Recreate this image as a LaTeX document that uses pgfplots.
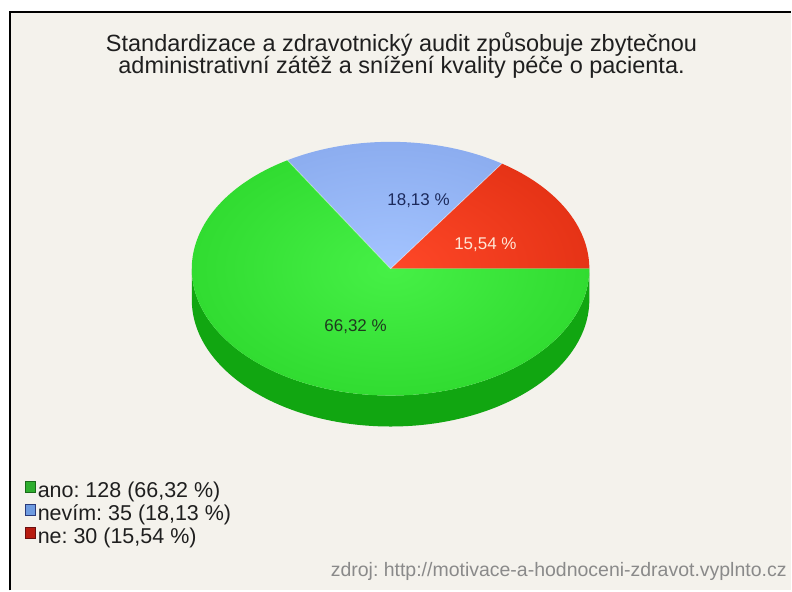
\documentclass[border=0pt]{standalone}
\usepackage{pgfplots}
\pgfplotsset{compat=1.18}
\usepackage{fontspec}
\setmainfont{Liberation Sans}
\frenchspacing
\definecolor{bg}{HTML}{F4F2EC}
\definecolor{gIn}{HTML}{46F046}
\definecolor{gOut}{HTML}{1CC81C}
\definecolor{gSide}{HTML}{11A611}
\definecolor{bIn}{HTML}{A4C4FF}
\definecolor{bOut}{HTML}{7496E0}
\definecolor{rIn}{HTML}{FF4828}
\definecolor{rOut}{HTML}{CC1E04}
\definecolor{lgreen}{HTML}{2EAE2E}
\definecolor{lgreenD}{HTML}{1A6A1A}
\definecolor{lblue}{HTML}{6E9BE0}
\definecolor{lblueD}{HTML}{2A3A7A}
\definecolor{lred}{HTML}{B81C10}
\definecolor{lredD}{HTML}{6A1010}
\definecolor{lab1}{HTML}{1C2A5C}
\definecolor{lab2}{HTML}{FFE6D6}
\definecolor{lab3}{HTML}{1E3A1E}
\definecolor{src}{HTML}{8A8A8A}
% data: ano, nevim, ne
\def\vano{128}\def\vnevim{35}\def\vne{30}
\pgfmathsetmacro\total{\vano+\vnevim+\vne}
\pgfmathsetmacro\aNe{360*\vne/\total}
\pgfmathsetmacro\aNevim{\aNe+360*\vnevim/\total}
% geometry (axis units = bp)
\def\cx{391}\def\cy{322}\def\rx{199}\def\ry{127}\def\dep{31}
\begin{document}
\begin{tikzpicture}
\begin{axis}[width=792bp,height=591bp,scale only axis,
  xmin=0,xmax=792,ymin=0,ymax=591,hide axis,clip=false,
  legend style={at={(axis cs:25,109.3)},anchor=north west,draw=none,fill=none,
    inner sep=0pt,outer sep=0pt,row sep=2.3bp,column sep=2bp,
    font=\fontsize{21.5bp}{22bp}\selectfont,
    nodes={inner sep=0pt,text height=15bp,text depth=5bp,text=black!88}},
  legend cell align=left]
% background and frame
\fill[white] (axis cs:0,0) rectangle (axis cs:792,591);
\fill[bg] (axis cs:10,0) rectangle (axis cs:792,579);
\draw[line width=1.8bp,black] (axis cs:10,0) -- (axis cs:10,579) -- (axis cs:792,579);
% title
\node[anchor=base,font=\fontsize{23.5bp}{21.5bp}\selectfont,text=black!88] at (axis cs:402,539) {Standardizace a zdravotnický audit způsobuje zbytečnou};
\node[anchor=base,font=\fontsize{23.5bp}{21.5bp}\selectfont,text=black!88] at (axis cs:402,517.5) {administrativní zátěž a snížení kvality péče o pacienta.};
% pie side
\fill[gSide] (axis cs:\cx-\rx,\cy) arc[start angle=180,end angle=360,x radius=\rx bp,y radius=\ry bp]
  -- (axis cs:\cx+\rx,\cy-\dep) arc[start angle=360,end angle=180,x radius=\rx bp,y radius=\ry bp] -- cycle;
% ne slice
\begin{scope}
\clip (axis cs:\cx,\cy) -- (axis cs:\cx+\rx,\cy) arc[start angle=0,end angle=\aNe,x radius=\rx bp,y radius=\ry bp] -- cycle;
\shade[inner color=rIn,outer color=rOut] (axis cs:\cx,\cy) ellipse[x radius=2*\rx bp,y radius=2*\ry bp];
\end{scope}
% nevim slice
\begin{scope}
\clip (axis cs:\cx,\cy) -- ++(\aNe:{\rx bp} and {\ry bp}) arc[start angle=\aNe,end angle=\aNevim,x radius=\rx bp,y radius=\ry bp] -- cycle;
\shade[inner color=bIn,outer color=bOut] (axis cs:\cx,\cy) ellipse[x radius=2*\rx bp,y radius=2*\ry bp];
\end{scope}
% ano slice
\begin{scope}
\clip (axis cs:\cx,\cy) -- ++(\aNevim:{\rx bp} and {\ry bp}) arc[start angle=\aNevim,end angle=360,x radius=\rx bp,y radius=\ry bp] -- cycle;
\shade[inner color=gIn,outer color=gOut] (axis cs:\cx,\cy) ellipse[x radius=2*\rx bp,y radius=2*\ry bp];
\end{scope}
% slice separators
\draw[white,opacity=0.45,line width=0.8bp] (axis cs:\cx,\cy) -- ++(\aNe:{\rx bp} and {\ry bp});
\draw[white,opacity=0.45,line width=0.8bp] (axis cs:\cx,\cy) -- ++(\aNevim:{\rx bp} and {\ry bp});
% percentage labels
\node[anchor=base,font=\fontsize{17bp}{17bp}\selectfont,text=lab1] at (axis cs:419,385) {18,13 \%};
\node[anchor=base,font=\fontsize{17bp}{17bp}\selectfont,text=lab2] at (axis cs:486,341) {15,54 \%};
\node[anchor=base,font=\fontsize{17bp}{17bp}\selectfont,text=lab3] at (axis cs:356,259.5) {66,32 \%};
% source
\node[anchor=base east,font=\fontsize{19.5bp}{19.5bp}\selectfont,text=src] at (axis cs:791,14.3) {zdroj: http://motivace-a-hodnoceni-zdravot.vyplnto.cz};
% legend
\addlegendimage{legend image code/.code={\draw[fill=lgreen,draw=lgreenD,line width=0.8bp] (0bp,0bp) rectangle (10bp,10.5bp);}}
\addlegendentry{ano: 128 (66,32 \%)}
\addlegendimage{legend image code/.code={\draw[fill=lblue,draw=lblueD,line width=0.8bp] (0bp,0bp) rectangle (10bp,10.5bp);}}
\addlegendentry{nevím: 35 (18,13 \%)}
\addlegendimage{legend image code/.code={\draw[fill=lred,draw=lredD,line width=0.8bp] (0bp,0bp) rectangle (10bp,10.5bp);}}
\addlegendentry{ne: 30 (15,54 \%)}
\end{axis}
\end{tikzpicture}
\end{document}
